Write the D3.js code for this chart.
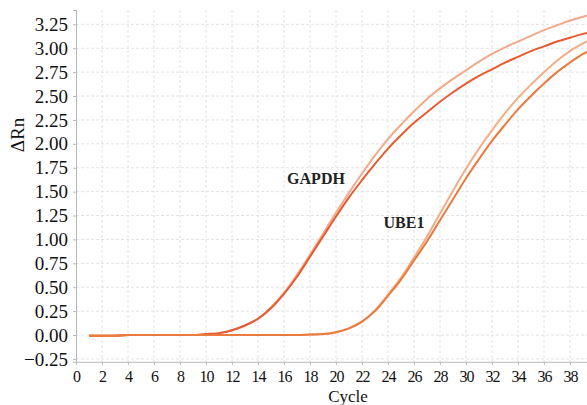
<!DOCTYPE html>
<html>
<head>
<meta charset="utf-8">
<script src="https://cdn.jsdelivr.net/npm/d3@7"></script>
<style>
  body { margin: 0; background: #fff; }
  svg { display: block; }
  .grid line { stroke: #e2e2e2; stroke-dasharray: 3,2; }
  .axis path, .axis line { stroke: #b8b8b8; }
  .axis text { font-family: "Liberation Serif", serif; fill: #111; }
</style>
</head>
<body>
<svg id="chart" width="587" height="405"></svg>
<script>
// qPCR amplification plot, GAPDH vs UBE1

var cycles = d3.range(1, 41);

var gapdhLight = [0, 0, 0, 0, 0, 0, 0, 0, 0, 0.01,
  0.02, 0.05, 0.10, 0.17, 0.29, 0.44, 0.63, 0.84, 1.06, 1.28,
  1.49, 1.69, 1.88, 2.05, 2.20, 2.34, 2.47, 2.58, 2.68, 2.77,
  2.86, 2.94, 3.01, 3.07, 3.13, 3.19, 3.24, 3.29, 3.33, 3.37];
var gapdhDark = [-0.01, -0.01, -0.01, 0, 0, 0, 0, 0, 0, 0.01,
  0.02, 0.05, 0.10, 0.17, 0.28, 0.43, 0.61, 0.82, 1.03, 1.24,
  1.44, 1.62, 1.79, 1.95, 2.09, 2.22, 2.33, 2.44, 2.54, 2.63,
  2.71, 2.78, 2.85, 2.91, 2.97, 3.02, 3.07, 3.11, 3.15, 3.18];
var ube1Light = [0, 0, 0, 0, 0, 0, 0, 0, 0, 0,
  0, 0, 0, 0, 0, 0, 0, 0.005, 0.01, 0.03,
  0.07, 0.14, 0.26, 0.42, 0.60, 0.81, 1.03, 1.27, 1.51, 1.74,
  1.95, 2.14, 2.32, 2.48, 2.62, 2.75, 2.87, 2.97, 3.05, 3.12];
var ube1Dark = [-0.01, -0.01, -0.01, 0, 0, 0, 0, 0, 0, 0,
  0, 0, 0, 0, 0, 0, 0, 0.005, 0.01, 0.03,
  0.07, 0.14, 0.25, 0.41, 0.58, 0.78, 0.98, 1.20, 1.42, 1.64,
  1.84, 2.03, 2.20, 2.36, 2.50, 2.63, 2.75, 2.85, 2.94, 3.01];

var yTicks = [-0.25, 0, 0.25, 0.5, 0.75, 1, 1.25, 1.5, 1.75, 2, 2.25, 2.5, 2.75, 3, 3.25];
var xTicks = d3.range(0, 39, 2);

var series = [
  { values: gapdhLight, color: "#f2a98a" },
  { values: ube1Light, color: "#f3ad86" },
  { values: gapdhDark, color: "#e65a32" },
  { values: ube1Dark, color: "#ea7a3e" }
];

var svg = d3.select("#chart");

var x = d3.scaleLinear().domain([0, 40]).range([76, 596]);
var y = d3.scaleLinear().domain([-0.28, 3.4]).range([361.8, 10]);

// grid
svg.append("g").attr("class", "grid")
   .selectAll("line").data(xTicks.slice(1)).join("line")
   .attr("x1", d => x(d)).attr("x2", d => x(d))
   .attr("y1", y(3.4)).attr("y2", y(-0.28));
svg.append("g").attr("class", "grid")
   .selectAll("line").data(yTicks).join("line")
   .attr("x1", x(0)).attr("x2", 587)
   .attr("y1", d => y(d)).attr("y2", d => y(d));

// axes
var yAxis = svg.append("g").attr("class", "axis")
   .attr("transform", "translate(" + x(0) + ",0)")
   .call(d3.axisLeft(y).tickValues(yTicks).tickSize(3).tickPadding(5)
           .tickFormat(d => d3.format(".2f")(d).replace("-", "\u2212")));
yAxis.selectAll("text").attr("font-size", 19);

var xAxis = svg.append("g").attr("class", "axis")
   .attr("transform", "translate(0," + y(-0.28) + ")")
   .call(d3.axisBottom(x).tickValues(xTicks).tickSize(3).tickPadding(6));
xAxis.selectAll("text").attr("font-size", 16).attr("letter-spacing", -1);

// curves
var line = d3.line()
  .x((d, i) => x(cycles[i]))
  .y(d => y(d))
  .curve(d3.curveMonotoneX);

svg.append("g")
   .selectAll("path").data(series).join("path")
   .attr("fill", "none")
   .attr("stroke", d => d.color)
   .attr("stroke-width", 2)
   .attr("d", d => line(d.values));

// labels
svg.append("text")
   .attr("transform", "translate(24,135) rotate(-90)")
   .attr("text-anchor", "middle")
   .attr("font-family", "Liberation Serif, serif")
   .attr("font-size", 19)
   .attr("fill", "#111")
   .text("\u0394Rn");

svg.append("text")
   .attr("x", 348).attr("y", 402)
   .attr("text-anchor", "middle")
   .attr("font-family", "Liberation Serif, serif")
   .attr("font-size", 17)
   .attr("fill", "#111")
   .text("Cycle");

svg.append("text")
   .attr("x", 316).attr("y", 184)
   .attr("text-anchor", "middle")
   .attr("font-family", "Liberation Serif, serif")
   .attr("font-weight", "bold")
   .attr("font-size", 16)
   .attr("fill", "#222")
   .text("GAPDH");

svg.append("text")
   .attr("x", 404).attr("y", 228)
   .attr("text-anchor", "middle")
   .attr("font-family", "Liberation Serif, serif")
   .attr("font-weight", "bold")
   .attr("font-size", 16)
   .attr("fill", "#222")
   .text("UBE1");
</script>
</body>
</html>
